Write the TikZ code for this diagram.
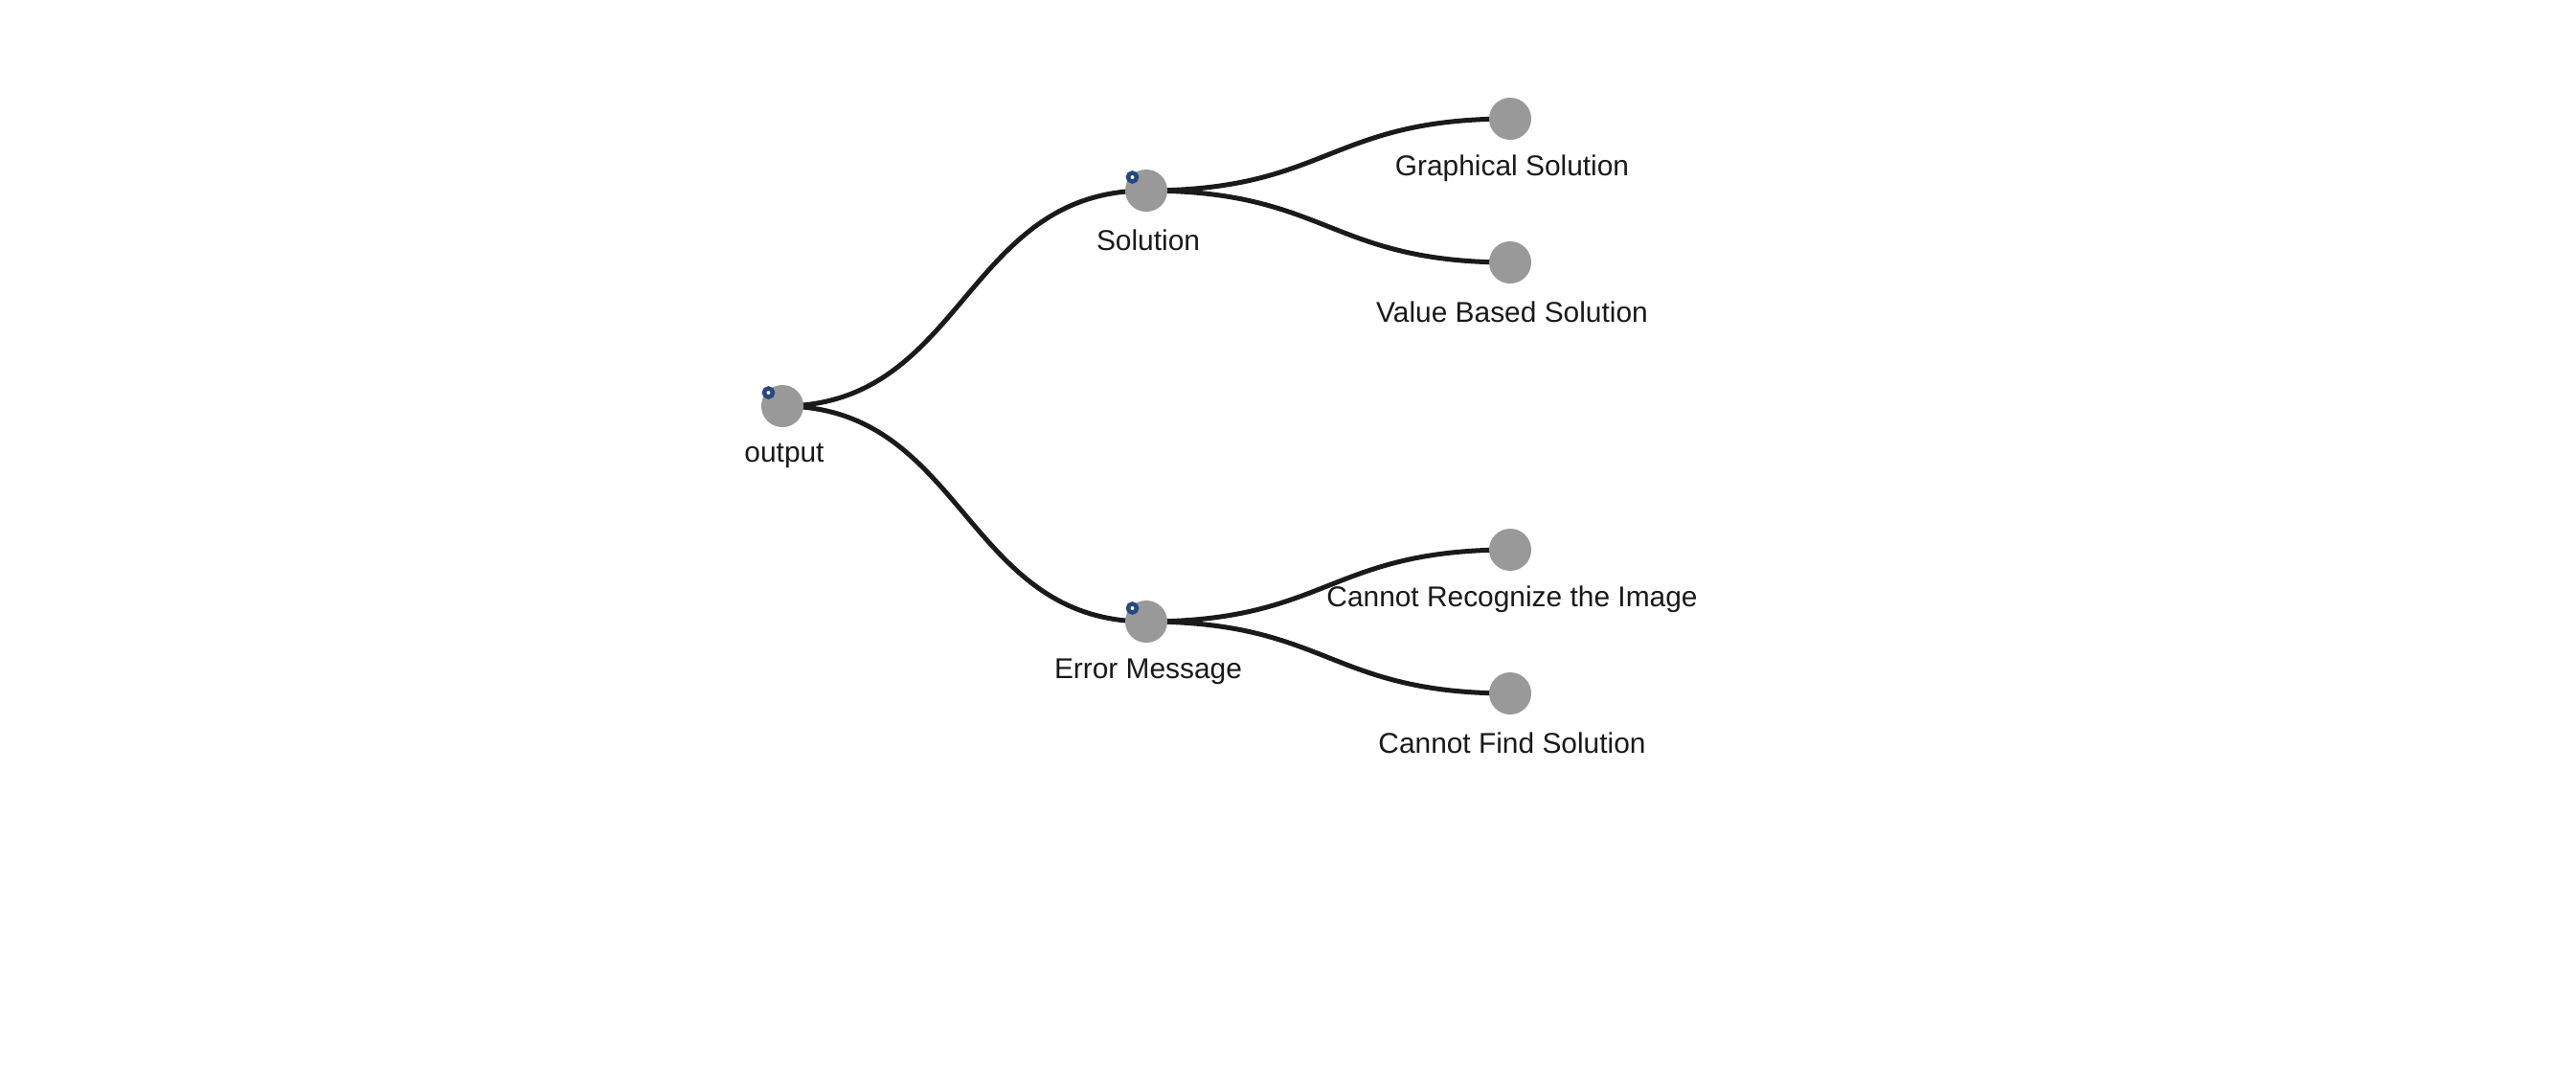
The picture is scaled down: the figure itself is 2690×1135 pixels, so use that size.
\documentclass[tikz,border=0pt]{standalone}
\usepackage{fontspec}
\setmainfont{Liberation Sans}
\usetikzlibrary{calc, backgrounds}
\definecolor{leafgray}{RGB}{153,153,153}
\definecolor{ringblue}{RGB}{38,72,130}
\definecolor{linkblack}{RGB}{26,26,26}

\begin{document}
\begin{tikzpicture}[
  x=0.01cm, y=-0.01cm,
  treenode/.style={circle, fill=leafgray, minimum size=0.44cm, inner sep=0pt},
  nodetext/.style={font=\fontsize{8.5}{10}\selectfont, text=black!90, inner sep=0pt},
  ringmark/.style={circle, draw=ringblue, fill=white, line width=0.045cm, minimum size=0.09cm, inner sep=0pt},
  link/.style={draw=linkblack, line width=0.05cm},
]
\def\half{190} % half the horizontal gap between levels
\useasboundingbox (0,0) rectangle (2690,1135);

% Root
\node[treenode] (output) at (817,424) {};
\node[nodetext] (output-t) at ([shift={(0.02cm,-0.52cm)}]output.center) {output};

% Level 1
\node[treenode] (sol) at (1197,199) {};
\node[nodetext] (sol-t) at ([shift={(0.02cm,-0.52cm)}]sol.center) {Solution};
\node[treenode] (err) at (1197,649) {};
\node[nodetext] (err-t) at ([shift={(0.02cm,-0.52cm)}]err.center) {Error Message};

% Leaves
\node[treenode] (graph) at (1577,124) {};
\node[nodetext] (graph-t) at ([shift={(0.02cm,-0.52cm)}]graph.center) {Graphical Solution};
\node[treenode] (value) at (1577,274) {};
\node[nodetext] (value-t) at ([shift={(0.02cm,-0.52cm)}]value.center) {Value Based Solution};
\node[treenode] (recog) at (1577,574) {};
\node[nodetext] (recog-t) at ([shift={(0.02cm,-0.52cm)}]recog.center) {Cannot Recognize the Image};
\node[treenode] (find) at (1577,724) {};
\node[nodetext] (find-t) at ([shift={(0.02cm,-0.52cm)}]find.center) {Cannot Find Solution};

% Collapse markers on inner nodes
\foreach \n in {output, sol, err}
  \node[ringmark] (\n-ring) at ([shift={(-0.145cm,0.14cm)}]\n.center) {};

% Links
\begin{scope}[on background layer]
\foreach \a/\b in {output/sol, output/err, sol/graph, sol/value, err/recog, err/find}
  \draw[link] (\a.center) .. controls ($(\a.center)+(\half,0)$) and ($(\b.center)-(\half,0)$) .. (\b.center);
\end{scope}
\end{tikzpicture}
\end{document}
